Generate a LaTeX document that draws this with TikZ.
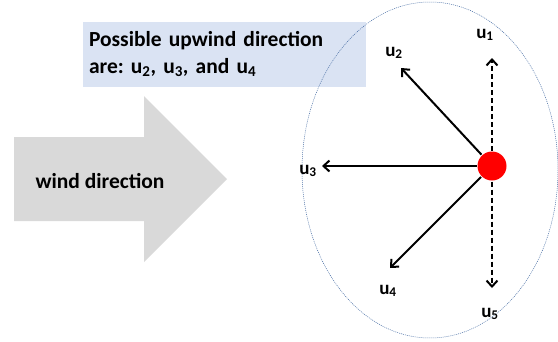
\documentclass[tikz,border=0pt]{standalone}
\usepackage{fontspec}
\setmainfont{Carlito}
\usetikzlibrary{arrows.meta}

\definecolor{notefill}{HTML}{DAE3F3}
\definecolor{rimblue}{HTML}{4A6FA5}
\frenchspacing

\begin{document}
\begin{tikzpicture}[x=1pt, y=-1pt, line width=2pt,
    % styles
    windarrow/.style={fill=black!15, draw=none},
    notebox/.style={fill=notefill, text width=271pt, minimum height=65pt, align=left,
        inner xsep=6pt, inner ysep=0pt, font=\fontsize{21.5}{27}\selectfont\bfseries},
    ulabel/.style={font=\fontsize{19}{22}\selectfont\bfseries, inner sep=1pt},
    possible/.style={-{Straight Barb[length=6pt, width=11pt]}},
    notpossible/.style={possible, dash pattern=on 5pt off 3pt}
]
    \useasboundingbox (0,0) rectangle (558,341);

    % --- wind arrow ---
    \fill[windarrow] (14,137) -- (144,137) -- (144,96) -- (227,179)
        -- (144,262) -- (144,221) -- (14,221) -- cycle;
    \node[font=\fontsize{21.5}{24}\selectfont\bfseries] (wind) at (100,181) {wind direction};

    % --- note box ---
    \node[notebox, anchor=north west] (note) at (82,21)
        {Possible upwind direction\\are: u\textsubscript{2}, u\textsubscript{3}, and u\textsubscript{4}\vphantom{g}};

    % --- neighbourhood ellipse ---
    \draw[line width=0.5pt, color=rimblue, dash pattern=on 1pt off 1pt]
        (430,170) ellipse [x radius=128, y radius=168];

    % --- arrow end points ---
    \coordinate (e1) at (492,58);
    \coordinate (e2) at (401,68);
    \coordinate (e3) at (322,166);
    \coordinate (e4) at (390,268);
    \coordinate (e5) at (492,288);

    % --- centre point ---
    \node[circle, fill=red, minimum size=29pt, inner sep=0pt] (p) at (492,166) {};

    % --- directions ---
    \draw[possible] (p) -- (e2);
    \draw[possible] (p) -- (e3);
    \draw[possible] (p) -- (e4);
    \draw[notpossible] (p.north) -- (e1);
    \draw[notpossible] (p.south) -- (e5);

    % --- labels ---
    \node[ulabel] (u1) at (485,35) {u\textsubscript{1}};
    \node[ulabel] (u2) at (394,53) {u\textsubscript{2}};
    \node[ulabel] (u3) at (308,171) {u\textsubscript{3}};
    \node[ulabel] (u4) at (388,291) {u\textsubscript{4}};
    \node[ulabel] (u5) at (490,314) {u\textsubscript{5}};

\end{tikzpicture}
\end{document}
